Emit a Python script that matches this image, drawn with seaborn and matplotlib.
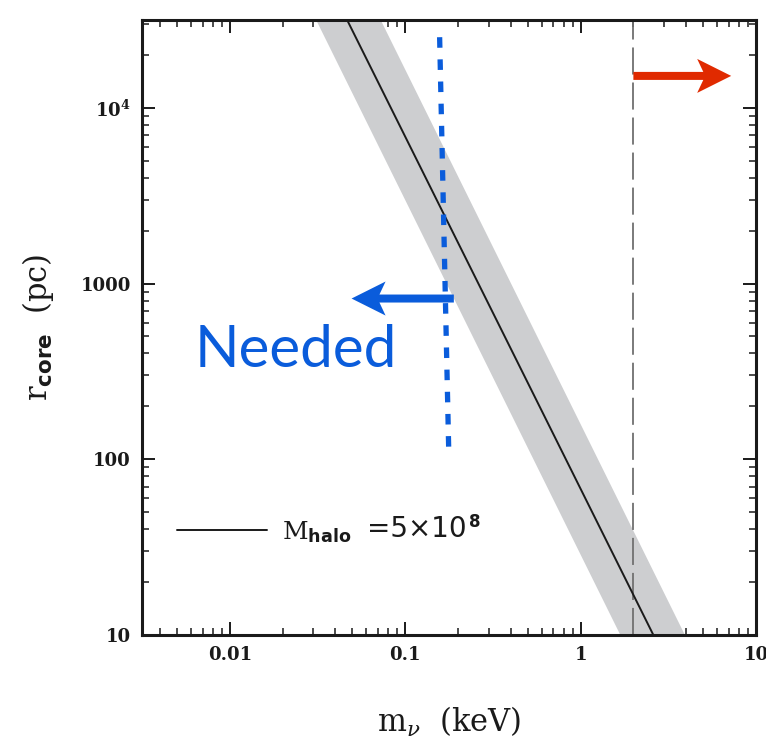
import numpy as np
import pandas as pd
import seaborn as sns
import matplotlib.pyplot as plt
from matplotlib.patches import FancyArrow
from matplotlib.transforms import IdentityTransform
from matplotlib.ticker import FixedLocator, FixedFormatter, LogLocator, NullFormatter

# ---- data ----
m_line = [0.0467, 2.6]          # keV
r_line = [31623.0, 10.0]        # pc
r_band = [10.0, 31623.0]
m_band_low = [1.68, 0.031]
m_band_high = [3.92, 0.0723]
needed_m = [0.177, 0.157]
needed_r = [118.0, 27100.0]
limit_m = 2.0
blue_arrow_tail = (0.1895, 822.0)
blue_arrow_tip = (0.0495, 822.0)
red_arrow_tail = (2.0, 15200.0)
red_arrow_tip = (7.22, 15200.0)
xticks = [0.01, 0.1, 1, 10]
xtick_labels = ["0.01", "0.1", "1", "10"]
yticks = [10, 100, 1000, 10000]
ytick_labels = ["10", "100", "1000", r"$\mathbf{10^{4}}$"]
xlim = (10 ** -2.5, 10.0)
ylim = (10.0, 10 ** 4.5)

sns.set_theme(style="ticks")
plt.rcParams.update({
    "mathtext.fontset": "custom",
    "mathtext.rm": "DejaVu Serif",
    "mathtext.it": "DejaVu Serif:italic",
    "mathtext.bf": "DejaVu Serif:bold",
    "mathtext.sf": "DejaVu Sans:bold",
})
plt.rcParams["font.family"] = ["DejaVu Serif"]

fig = plt.figure(figsize=(7.66, 7.43), dpi=100)
ax = fig.add_axes([142 / 766, 1 - 635 / 743, 614 / 766, 615 / 743])
ax.set_xscale("log")
ax.set_yscale("log")
ax.set_xlim(*xlim)
ax.set_ylim(*ylim)

BLUE = "#0a5cdb"
RED = "#e02a00"
INK = "#1a1a1a"

# band
ax.fill_betweenx(r_band, m_band_low, m_band_high, color="#cdced0", lw=0, zorder=1)
# main line
df = pd.DataFrame({"m": m_line, "r": r_line})
sns.lineplot(data=df, x="m", y="r", ax=ax, color=INK, lw=1.4, zorder=3,
             label=r"$\mathrm{M}_{\mathsf{halo}}$", sort=False)

# gray dashed limit
ax.plot([limit_m, limit_m], ylim, color="#707070", lw=1.3,
        linestyle=(0, (15, 4.4)), zorder=2)
# blue dotted needed line
ax.plot(needed_m, needed_r, color=BLUE, lw=3.8, linestyle=(0, (2.0, 2.2)),
        solid_capstyle="butt", dash_capstyle="butt", zorder=4)


def pixel_arrow(tail, tip, color):
    (x0, y0), (x1, y1) = ax.transData.transform([tail, tip])
    arr = FancyArrow(x0, y0, x1 - x0, y1 - y0, width=8, head_width=34,
                     head_length=34, overhang=0.18, length_includes_head=True,
                     transform=IdentityTransform(), color=color, lw=0, zorder=5)
    fig.patches.append(arr)
    arr.set_figure(fig)


pixel_arrow(blue_arrow_tail, blue_arrow_tip, BLUE)
pixel_arrow(red_arrow_tail, red_arrow_tip, RED)

ax.text((195 - 142) / 614, (635 - 367) / 615, "Needed", transform=ax.transAxes,
        ha="left", va="baseline", fontsize=42, color=BLUE, family=["Lato"])

ax.xaxis.set_major_locator(FixedLocator(xticks))
ax.xaxis.set_major_formatter(FixedFormatter(xtick_labels))
ax.yaxis.set_major_locator(FixedLocator(yticks))
ax.yaxis.set_major_formatter(FixedFormatter(ytick_labels))
ax.xaxis.set_minor_locator(LogLocator(base=10, subs=np.arange(2, 10), numticks=20))
ax.yaxis.set_minor_locator(LogLocator(base=10, subs=np.arange(2, 10), numticks=20))
ax.xaxis.set_minor_formatter(NullFormatter())
ax.yaxis.set_minor_formatter(NullFormatter())

ax.tick_params(which="both", direction="in", top=True, right=True, color=INK)
ax.tick_params(which="major", length=9.4, width=1.4, pad=8)
ax.tick_params(which="minor", length=5, width=1.1)
for lab in ax.get_xticklabels() + ax.get_yticklabels():
    lab.set_family("DejaVu Serif")
    lab.set_fontweight("bold")
    lab.set_fontsize(13)
    lab.set_color(INK)
for s in ax.spines.values():
    s.set_linewidth(2.2)
    s.set_color(INK)

ax.set_xlabel(r"m$_{\nu}$  (keV)", fontsize=22, color=INK)
ax.set_ylabel(r"r$_{\mathsf{core}}$  (pc)", fontsize=22, color=INK)
ax.xaxis.set_label_coords(0.5, (635 - 705) / 615)
ax.yaxis.set_label_coords((56 - 142) / 614, 0.5)

leg = ax.legend(loc="center left", bbox_to_anchor=((176.7 - 142) / 614, (635 - 532) / 615),
                frameon=False, handlelength=3.6, handletextpad=0.6, borderpad=0,
                borderaxespad=0, prop={"family": ["DejaVu Serif"], "size": 18})
for t in leg.get_texts():
    t.set_color(INK)

ax.text((367 - 142) / 614, (635 - 537) / 615, "=5×10",
        transform=ax.transAxes, ha="left", va="baseline", fontsize=20,
        color=INK, family=["DejaVu Sans"])
ax.text((469 - 142) / 614, (635 - 527) / 615, "8",
        transform=ax.transAxes, ha="left", va="baseline", fontsize=12,
        fontweight="bold", color=INK, family=["DejaVu Sans"])

fig.savefig("out.png", dpi=100)
